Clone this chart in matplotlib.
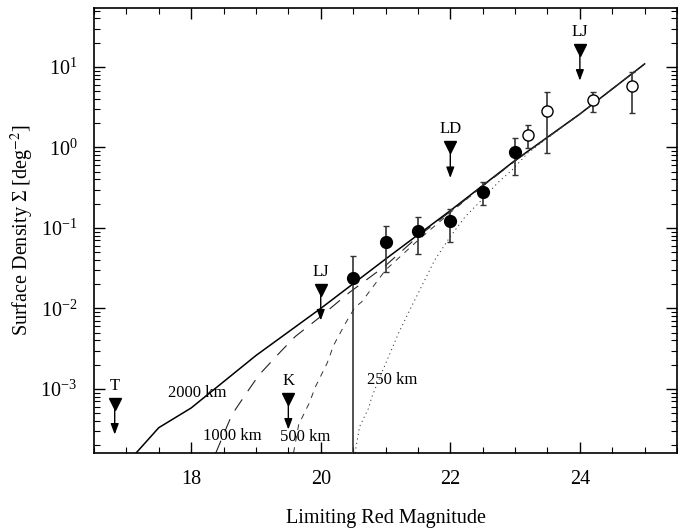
import matplotlib
matplotlib.use("Agg")
import matplotlib.pyplot as plt
from matplotlib.transforms import offset_copy

plt.rcParams['font.family'] = ['Liberation Serif', 'DejaVu Serif']
plt.rcParams['mathtext.fontset'] = 'stix'

# model curves (limiting magnitude, surface density)
m_2000 = [17.15, 17.5, 18.0, 19.0, 20.0, 21.0, 22.0, 23.0, 24.0, 25.0]
s_2000 = [1.6e-4, 3.3e-4, 5.8e-4, 2.6e-3, 1.0e-2, 0.041, 0.164, 0.69, 2.6, 10.9]

m_1000 = [18.38, 18.63, 18.89, 19.05, 19.38, 19.61, 19.97, 20.43, 21.0, 21.5, 22.0, 23.0, 24.0, 25.0]
s_1000 = [1.6e-4, 4.8e-4, 9.8e-4, 1.5e-3, 2.9e-3, 4.5e-3, 7.6e-3, 1.55e-2, 0.034, 0.078, 0.16, 0.68, 2.6, 10.9]

m_500 = [19.58, 19.66, 19.82, 19.92, 20.1, 20.2, 20.38, 20.53, 20.63, 21.0, 21.5, 22.0, 22.5, 23.0, 24.0, 25.0]
s_500 = [1.6e-4, 3.6e-4, 6.6e-4, 1.07e-3, 2.1e-3, 3.5e-3, 6.5e-3, 1.04e-2, 1.2e-2, 0.03, 0.07, 0.155, 0.33, 0.68, 2.6, 10.9]

m_250 = [20.53, 20.6, 20.74, 20.79, 20.97, 21.2, 21.4, 21.76, 22.0, 22.23, 22.48, 22.74, 22.95, 23.2, 23.5, 24.0, 25.0]
s_250 = [1.6e-4, 3.4e-4, 5.8e-4, 8e-4, 1.8e-3, 4.9e-3, 0.0105, 0.04, 0.078, 0.138, 0.22, 0.37, 0.52, 0.86, 1.3, 2.6, 10.9]

# filled points (lower bound 1e-6 = consistent with zero)
m_fill = [20.5, 21.0, 21.5, 22.0, 22.5, 23.0]
s_fill = [0.024, 0.067, 0.092, 0.122, 0.28, 0.88]
lo_fill = [1e-6, 0.028, 0.0475, 0.067, 0.19, 0.455]
hi_fill = [0.045, 0.106, 0.137, 0.172, 0.37, 1.3]

# open points
m_open = [23.2, 23.5, 24.2, 24.8]
s_open = [1.44, 2.84, 3.9, 5.8]
lo_open = [0.98, 0.85, 2.76, 2.7]
hi_open = [1.9, 4.9, 4.93, 8.7]

# survey limits
lim_names = ['T', 'K', 'LJ', 'LD', 'LJ']
lim_mag = [16.82, 19.5, 20.0, 22.0, 24.0]
lim_val = [6.5e-4, 7.5e-4, 0.017, 1.0, 16.2]

# curve labels
curve_names = ['2000 km', '1000 km', '500 km', '250 km']
curve_lab_m = [18.1, 18.63, 19.76, 21.1]
curve_lab_s = [8.9e-4, 2.6e-4, 2.5e-4, 1.29e-3]

fig = plt.figure(figsize=(6.78, 5.31), dpi=100)
ax = fig.add_axes([0.1386, 0.1469, 0.8600, 0.8381])

ax.plot(m_2000, s_2000, color='black', lw=1.1)
ax.plot(m_1000, s_1000, color='#222222', lw=0.8, dashes=(12, 9))
ax.plot(m_500, s_500, color='#333333', lw=0.7, dashes=(6, 6))
ax.plot(m_250, s_250, color='#333333', lw=0.7, dashes=(1.2, 3.5))

yerr_f = [[s - l for s, l in zip(s_fill, lo_fill)], [h - s for s, h in zip(s_fill, hi_fill)]]
ax.errorbar(m_fill, s_fill, yerr=yerr_f, fmt='o', color='black', ms=8.5,
            ecolor='#333333', elinewidth=1.2, capsize=2.5, capthick=1.0, zorder=5)
yerr_o = [[s - l for s, l in zip(s_open, lo_open)], [h - s for s, h in zip(s_open, hi_open)]]
ax.errorbar(m_open, s_open, yerr=yerr_o, fmt='o', mfc='white', mec='black', mew=1.0,
            ms=8, ecolor='#333333', elinewidth=1.2, capsize=2.5, capthick=1.0, zorder=5)

# limit markers: triangle, label above, arrow pointing down
below = offset_copy(ax.transData, fig=fig, x=0, y=-22, units='points')
for name, m, s in zip(lim_names, lim_mag, lim_val):
    ax.annotate('', xy=(m, s), xycoords=below, xytext=(m, s), textcoords='data',
                arrowprops=dict(arrowstyle='-|>,head_length=0.8,head_width=0.3',
                                color='black', lw=1.0, mutation_scale=8,
                                shrinkA=0, shrinkB=0))
    ax.plot([m], [s], marker='v', color='black', ms=8, zorder=6)
    ax.annotate(name, xy=(m, s), xytext=(0, 13), textcoords='offset points',
                ha='center', va='center', fontsize=12)

for name, m, s in zip(curve_names, curve_lab_m, curve_lab_s):
    ax.text(m, s, name, ha='center', va='center', fontsize=12)

ax.set_yscale('log')
ax.set_xlim(16.5, 25.5)
ax.set_ylim(1.6e-4, 54)
ax.set_xticks([18, 20, 22, 24])
ax.set_xticks([x / 2 for x in range(33, 52)], minor=True)
ax.tick_params(which='both', direction='in', top=True, right=True, labelsize=14.5)
ax.tick_params(which='major', length=8, width=1.0, pad=12)
ax.tick_params(which='minor', length=4, width=0.8)
for sp in ax.spines.values():
    sp.set_linewidth(1.2)

ax.set_xlabel('Limiting Red Magnitude', fontsize=14.5, labelpad=15)
ax.set_ylabel('Surface Density Σ [deg$^{-2}$]', fontsize=14.5, labelpad=3)

fig.savefig('out.png', dpi=100)
